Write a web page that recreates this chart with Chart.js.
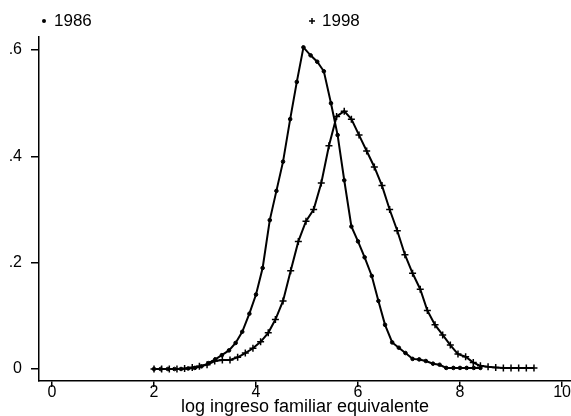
<!DOCTYPE html>
<html>
<head>
<meta charset="utf-8">
<script src="https://cdn.jsdelivr.net/npm/chart.js@4/dist/chart.umd.min.js"></script>
<style>
    html, body { margin: 0; padding: 0; background: #fff; }
    #wrap { width: 571px; height: 416px; }
</style>
</head>
<body>
<div id="wrap"><canvas id="myChart" width="571" height="416"></canvas></div>
<script>
    // datos
    const seriesNames = ['1986', '1998'];

    const x1986 = [2.00, 2.13, 2.27, 2.40, 2.53, 2.67, 2.80, 2.93, 3.07, 3.20,
                   3.33, 3.47, 3.60, 3.73, 3.87, 4.00, 4.13, 4.27, 4.40, 4.53,
                   4.67, 4.80, 4.93, 5.07, 5.20, 5.33, 5.47, 5.60, 5.73, 5.87,
                   6.00, 6.13, 6.27, 6.40, 6.53, 6.67, 6.80, 6.93, 7.07, 7.20,
                   7.33, 7.47, 7.60, 7.73, 7.87, 8.00, 8.13, 8.27, 8.40];
    const y1986 = [0.000, 0.000, 0.000, 0.000, 0.000, 0.001, 0.002, 0.005, 0.011, 0.018,
                   0.026, 0.035, 0.049, 0.070, 0.104, 0.140, 0.190, 0.280, 0.335, 0.390,
                   0.470, 0.540, 0.605, 0.590, 0.578, 0.560, 0.500, 0.440, 0.355, 0.268,
                   0.240, 0.210, 0.175, 0.128, 0.083, 0.050, 0.040, 0.030, 0.019, 0.018,
                   0.015, 0.010, 0.008, 0.002, 0.002, 0.002, 0.002, 0.002, 0.002];

    const x1998 = [2.00, 2.15, 2.30, 2.45, 2.60, 2.75, 2.89, 3.04, 3.19, 3.34,
                   3.49, 3.64, 3.79, 3.94, 4.09, 4.24, 4.38, 4.53, 4.68, 4.83,
                   4.98, 5.13, 5.28, 5.43, 5.58, 5.73, 5.87, 6.02, 6.17, 6.32,
                   6.47, 6.62, 6.77, 6.92, 7.07, 7.22, 7.36, 7.51, 7.66, 7.81,
                   7.96, 8.11, 8.26, 8.40, 8.55, 8.70, 8.85, 9.00, 9.15, 9.30, 9.45];
    const y1998 = [0.000, 0.000, 0.000, 0.000, 0.001, 0.003, 0.005, 0.008, 0.015, 0.017,
                   0.017, 0.022, 0.030, 0.039, 0.051, 0.068, 0.093, 0.128, 0.185, 0.240,
                   0.278, 0.300, 0.350, 0.420, 0.475, 0.485, 0.470, 0.440, 0.410, 0.380,
                   0.345, 0.300, 0.260, 0.215, 0.180, 0.150, 0.110, 0.083, 0.064, 0.045,
                   0.028, 0.023, 0.012, 0.006, 0.004, 0.003, 0.002, 0.002, 0.002, 0.002, 0.002];

    const xTicks = [0, 2, 4, 6, 8, 10];
    const yTicks = [0, 0.2, 0.4, 0.6];
    const xTitle = 'log ingreso familiar equivalente';

    const FONT = "'Liberation Sans', Arial, sans-serif";

    function fmtY(v) {
        if (v === 0) return '0';
        return String(v).replace(/^0/, '');
    }

    function toPoints(xs, ys) {
        return xs.map((x, i) => ({ x: x, y: ys[i] }));
    }

    // leyenda estilo Stata arriba
    const topLegend = {
        id: 'topLegend',
        afterDraw(chart) {
            const ctx = chart.ctx;
            const pos = [44, 312];
            ctx.save();
            ctx.fillStyle = '#000';
            ctx.strokeStyle = '#000';
            ctx.font = '17px ' + FONT;
            ctx.textBaseline = 'middle';
            chart.data.datasets.forEach((ds, i) => {
                let mx = pos[i], my = 21;
                if (ds.pointStyle === 'cross') {
                    ctx.lineWidth = 1.5;
                    ctx.beginPath();
                    ctx.moveTo(mx - 3, my); ctx.lineTo(mx + 3, my);
                    ctx.moveTo(mx, my - 3); ctx.lineTo(mx, my + 3);
                    ctx.stroke();
                } else {
                    ctx.beginPath();
                    ctx.arc(mx, my, 2, 0, Math.PI * 2);
                    ctx.fill();
                }
                ctx.fillText(ds.label, mx + 10, my);
            });
            ctx.restore();
        }
    };

    let canvas = document.getElementById('myChart');
    let context = canvas.getContext('2d');

    const config = {
        type: 'line',
        data: {
            datasets: [{
                label: seriesNames[0],
                data: toPoints(x1986, y1986),
                borderColor: '#000',
                backgroundColor: '#000',
                borderWidth: 2,
                pointStyle: 'circle',
                pointRadius: 1.8,
                pointBorderWidth: 1,
                tension: 0
            }, {
                label: seriesNames[1],
                data: toPoints(x1998, y1998),
                borderColor: '#000',
                backgroundColor: '#000',
                borderWidth: 2,
                pointStyle: 'cross',
                pointRadius: 3.5,
                pointBorderWidth: 1.5,
                tension: 0
            }]
        },
        options: {
            responsive: false,
            animation: false,
            devicePixelRatio: 1,
            layout: { autoPadding: false, padding: { top: 37, left: 0, right: 0, bottom: 0 } },
            plugins: {
                legend: { display: false },
                tooltip: { enabled: false }
            },
            scales: {
                x: {
                    type: 'linear',
                    min: -0.255,
                    max: 10.176,
                    afterBuildTicks: s => { s.ticks = xTicks.map(v => ({ value: v })); },
                    afterFit: s => { s.height = 35; s.paddingLeft = 0; s.paddingRight = 0; },
                    border: { display: true, color: '#000', width: 1.5 },
                    grid: { drawOnChartArea: false, drawTicks: true, tickLength: 6, color: '#000', lineWidth: 1.5 },
                    ticks: {
                        autoSkip: false, maxRotation: 0, padding: -2, color: '#000',
                        font: { family: FONT, size: 16, lineHeight: 1 },
                        callback: v => String(v)
                    },
                    title: {
                        display: true, text: xTitle, color: '#000',
                        font: { family: FONT, size: 18, lineHeight: 1 },
                        padding: { top: 0, bottom: 0 }
                    }
                },
                y: {
                    type: 'linear',
                    min: -0.0226,
                    max: 0.6245,
                    afterBuildTicks: s => { s.ticks = yTicks.map(v => ({ value: v })); },
                    afterFit: s => { s.width = 39; s.paddingTop = 0; s.paddingBottom = 0; },
                    border: { display: true, color: '#000', width: 1.5 },
                    grid: { drawOnChartArea: false, drawTicks: true, tickLength: 8, color: '#000', lineWidth: 1.5 },
                    ticks: {
                        padding: 9, color: '#000',
                        font: { family: FONT, size: 16 },
                        callback: v => fmtY(v)
                    }
                }
            }
        },
        plugins: [topLegend]
    };

    try {
        new Chart(context, config);
    } catch (error) {
        console.error('Error creando grafica:', error);
    }
</script>
</body>
</html>
